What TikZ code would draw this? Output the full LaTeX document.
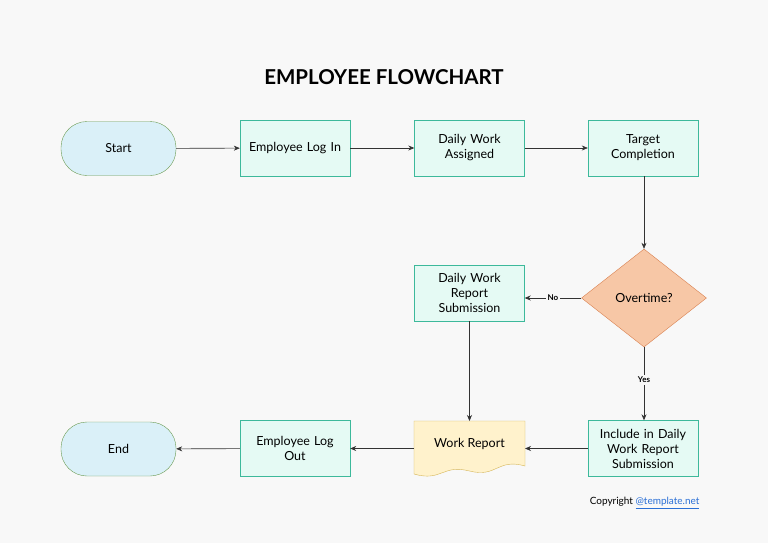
\documentclass[tikz,border=0pt]{standalone}
\usepackage{fontspec}
\setmainfont{Lato}
\usetikzlibrary{shapes.geometric,arrows.meta}
\definecolor{bg}{HTML}{F8F8F8}
\definecolor{boxf}{HTML}{E5FAF4}
\definecolor{boxd}{HTML}{3DB99B}
\definecolor{pillf}{HTML}{DAF0F8}
\definecolor{pilld}{HTML}{6A9A50}
\definecolor{diaf}{HTML}{F7C7A6}
\definecolor{diad}{HTML}{D9804F}
\definecolor{docf}{HTML}{FFF2CC}
\definecolor{docd}{HTML}{D6B656}
\begin{document}
\begin{tikzpicture}[x=1pt,y=-1pt,
  box/.style={draw=boxd,fill=boxf,minimum width=110pt,minimum height=56pt,align=center,font=\fontsize{12.5}{15}\selectfont,inner sep=2pt,text width=106pt},
  pill/.style={draw=pilld,fill=pillf,rounded corners=26pt,minimum width=115pt,minimum height=54pt,font=\fontsize{12.5}{15}\selectfont},
  arr/.style={draw=black!80,-{Stealth[length=6pt,width=5pt]},line width=0.6pt},
  lab/.style={fill=bg,font=\bfseries\fontsize{8}{9}\selectfont,inner sep=2pt}]
\fill[bg] (0,0) rectangle (768,543);
\useasboundingbox (0,0) rectangle (768,543);
\node[font=\bfseries\fontsize{20.5}{24}\selectfont] (title) at (384,77) {EMPLOYEE FLOWCHART};
\node[pill] (start) at (118.5,148.5) {Start};
\node[box] (login) at (295,148) {Employee Log In};
\node[box] (assign) at (469.5,148) {Daily Work\\Assigned};
\node[box] (target) at (643,148) {Target\\Completion};
\node[diamond,draw=diad,fill=diaf,minimum width=125pt,minimum height=98pt,inner sep=0pt,font=\fontsize{12.5}{15}\selectfont] (ot) at (644,298) {Overtime?};
\node[box] (dwrs) at (469.5,293) {Daily Work\\Report\\Submission};
\node[box] (incl) at (643,448.5) {Include in Daily\\Work Report\\Submission};
\draw[docd,fill=docf] (414,421) -- (525,421) -- (525,466) .. controls (497,458) and (497,478) .. (469.5,471) .. controls (442,464) and (442,482) .. (414,474) -- cycle;
\node[font=\fontsize{12.5}{15}\selectfont] (wr) at (469.5,444) {Work Report};
\coordinate (wrtop) at (469.5,421);
\coordinate (wrl) at (414,448.5);
\coordinate (wrr) at (525,448.5);
\node[box] (logout) at (295,448.5) {Employee Log\\Out};
\node[pill] (end) at (118.5,449) {End};
\draw[arr] (start) -- (login);
\draw[arr] (login) -- (assign);
\draw[arr] (assign) -- (target);
\draw[arr] (target.south -| ot.north) -- (ot.north);
\draw[arr] (ot.west) -- node[lab]{No} (dwrs.east |- ot.west);
\draw[arr] (ot.south) -- node[lab,pos=0.45]{Yes} (incl.north -| ot.south);
\draw[arr] (dwrs) -- (wrtop);
\draw[arr] (incl) -- (wrr);
\draw[arr] (wrl) -- (logout);
\draw[arr] (logout) -- (end);
\node[font=\fontsize{10}{12}\selectfont,anchor=east] (copy) at (703,503) {Copyright \textcolor[HTML]{2A6FD6}{\underline{@template.net}}};
\end{tikzpicture}
\end{document}
